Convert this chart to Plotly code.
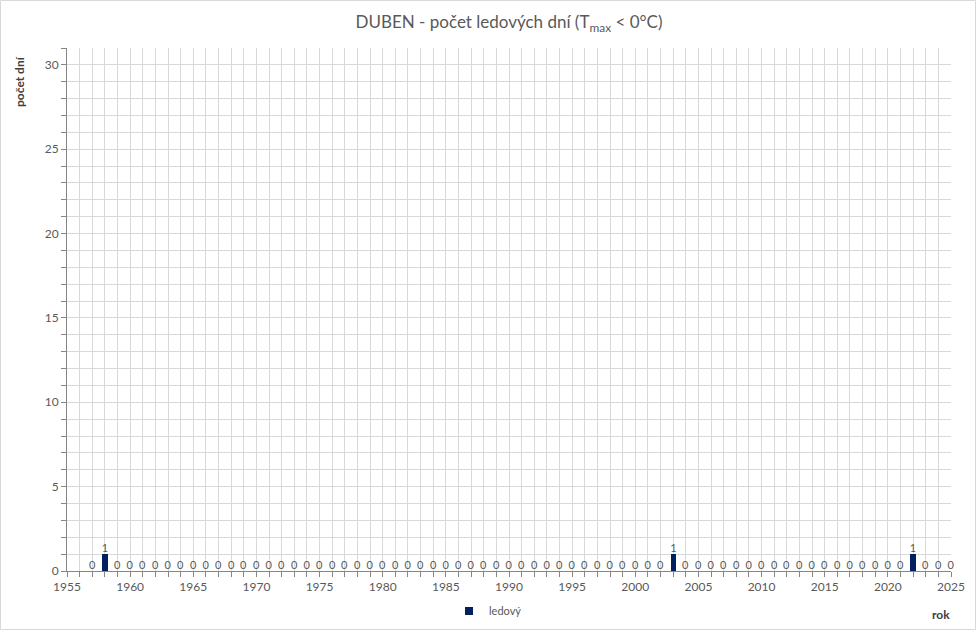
import plotly.graph_objects as go

years = list(range(1957, 2026))
ice_years = [1958, 2003, 2022]
ice_days = [1 if y in ice_years else 0 for y in years]

series_name = "ledový"
title_text = "DUBEN - počet ledových dní (T<sub>max</sub> < 0°C)"
x_title = "rok"
y_title = "počet dní"

W, H = 977, 631
L, R, T, B = 67, 26, 48, 60
pw, ph = W - L - R, H - T - B

grey = "#595959"
grid = "#d9d9d9"
axis = "#868686"
bar_color = "#002060"
font = "Lato"

fig = go.Figure()
fig.add_trace(go.Bar(
    x=years, y=ice_days, name=series_name,
    marker=dict(color=bar_color, line=dict(width=0)),
    width=0.42,
    text=[str(v) for v in ice_days], textposition="outside",
    textfont=dict(size=11, color=grey, family=font),
    constraintext="none",
    cliponaxis=False, showlegend=False,
))
# legend entry with a small square symbol
fig.add_trace(go.Scatter(
    x=[None], y=[None], mode="markers", name=series_name,
    marker=dict(symbol="square", size=8, color=bar_color),
    showlegend=True,
))

fig.update_layout(
    width=W, height=H,
    margin=dict(l=L, r=R, t=T, b=B, autoexpand=False),
    paper_bgcolor="white", plot_bgcolor="white",
    font=dict(family=font, color=grey, size=11),
    title=dict(text=title_text, x=0.5, xref="paper", xanchor="center",
               y=1 - 22 / H, yanchor="middle",
               font=dict(size=17, color=grey, family=font)),
    showlegend=True,
    legend=dict(orientation="h", xref="container", yref="container",
                x=449 / W, xanchor="left",
                y=1 - 611 / H, yanchor="middle",
                font=dict(size=11, color=grey, family=font),
                itemwidth=30, bgcolor="rgba(0,0,0,0)"),
    bargap=0,
)

fig.update_xaxes(
    range=[1955, 2025], tick0=1955, dtick=5,
    showgrid=True, gridcolor=grid, gridwidth=1,
    showline=True, linecolor=axis, linewidth=1,
    ticks="outside", ticklen=5, tickcolor=axis,
    tickfont=dict(size=12, color=grey, family=font),
    minor=dict(dtick=1, tick0=1955, showgrid=True, gridcolor=grid, gridwidth=1,
               ticks="outside", ticklen=5, tickcolor=axis),
    zeroline=False, fixedrange=True, automargin=False,
)
fig.update_yaxes(
    range=[0, 31], tick0=0, dtick=5,
    showgrid=True, gridcolor=grid, gridwidth=1,
    showline=True, linecolor=axis, linewidth=1,
    ticks="outside", ticklen=5, tickcolor=axis,
    tickfont=dict(size=12, color=grey, family=font),
    minor=dict(dtick=1, tick0=0, showgrid=True, gridcolor=grid, gridwidth=1,
               ticks="outside", ticklen=5, tickcolor=axis),
    zeroline=False, fixedrange=True, automargin=False,
)

fig.add_annotation(text="<b>" + y_title + "</b>", textangle=-90,
                   xref="paper", yref="paper",
                   x=-(L - 20) / pw, y=(H - B - 82) / ph,
                   xanchor="center", yanchor="middle", showarrow=False,
                   font=dict(size=12, color="#404040", family=font))
fig.add_annotation(text="<b>" + x_title + "</b>",
                   xref="paper", yref="paper",
                   x=(941 - L) / pw, y=-(614 - (H - B)) / ph,
                   xanchor="center", yanchor="middle", showarrow=False,
                   font=dict(size=12, color="#404040", family=font))

fig.add_shape(type="rect", xref="paper", yref="paper",
              x0=-(L - 0.5) / pw, x1=1 + (R - 1.5) / pw,
              y0=-(B - 1.5) / ph, y1=1 + (T - 0.5) / ph,
              line=dict(color="#d9d9d9", width=1), fillcolor="rgba(0,0,0,0)",
              layer="below")

fig.write_html("out.html",
               config={"displayModeBar": False},
               post_script="document.body.style.margin='0';"
                           "document.body.style.overflow='hidden';")
